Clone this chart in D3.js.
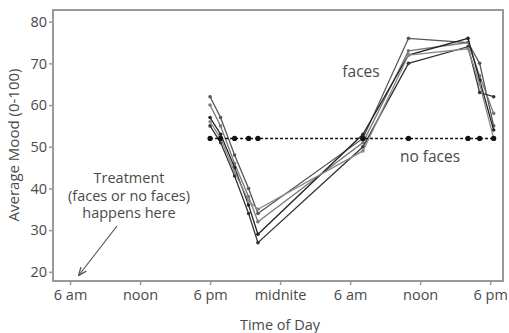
<!DOCTYPE html>
<html>
<head>
<meta charset="utf-8">
<script src="https://cdn.jsdelivr.net/npm/d3@7"></script>
<style>
body { margin: 0; background: #fff; }
text { font-family: "Open Sans", sans-serif; }
</style>
</head>
<body>
<script>
// hours after 6 am on day 1
var hours = [12.0, 12.9, 14.1, 15.3, 16.1, 25.1, 29.0, 34.1, 35.1, 36.3];
var noFaces = [52, 52, 52, 52, 52, 52, 52, 52, 52, 52];
var facesA = [62, 57, 48, 40, 34, 52, 76, 75, 70, 55];
var facesB = [60, 55, 46, 38, 32, 51, 73, 75, 67, 58];
var facesC = [57, 53, 45, 36, 29, 53, 72, 76, 66, 54];
var facesD = [55, 51, 43, 34, 27, 50, 70, 74, 63, 62];
var facesE = [56, 52, 44, 37, 35, 49, 72, 73.5, 65, 52];
var tickHours = [0, 6, 12, 18, 24, 30, 36];
var tickNames = ["6 am", "noon", "6 pm", "midnite", "6 am", "noon", "6 pm"];
var moodTicks = [20, 30, 40, 50, 60, 70, 80];

var textcolor = "#4a4a4a";
var framecolor = "#9a9a9a";
var faceColors = ["#555", "#777", "#222", "#333", "#888"];

var pLeft = 53, pRight = 503, pTop = 10, pBottom = 281;

var svg = d3.select("body")
	.append("svg")
	.attr("width", 509)
	.attr("height", 333);

var x = d3.scaleLinear().domain([-1.46, 37.1]).range([pLeft, pRight]);
var y = d3.scaleLinear().domain([17.8, 82.8]).range([pBottom, pTop]);

// frame
svg.append("rect")
	.attr("x", pLeft)
	.attr("y", pTop)
	.attr("width", pRight - pLeft)
	.attr("height", pBottom - pTop)
	.attr("fill", "none")
	.attr("stroke", framecolor)
	.attr("stroke-width", 2);

var xAxis = svg.append("g")
	.attr("transform", `translate(0,${pBottom + 1})`)
	.call(d3.axisBottom(x).tickValues(tickHours).tickSize(3).tickPadding(5)
		.tickFormat((d, i) => tickNames[i]));
var yAxis = svg.append("g")
	.attr("transform", `translate(${pLeft - 1},0)`)
	.call(d3.axisLeft(y).tickValues(moodTicks).tickSize(3).tickPadding(2));

[xAxis, yAxis].forEach(a => {
	a.select(".domain").remove();
	a.selectAll(".tick line").attr("stroke", framecolor).attr("stroke-width", 1.5);
	a.selectAll(".tick text")
		.attr("fill", textcolor)
		.attr("font-size", "14.5px")
		.attr("font-family", "Open Sans, sans-serif");
});

var line = d3.line()
	.x((d, i) => x(hours[i]))
	.y(d => y(d));

// faces series
var faces = [facesA, facesB, facesC, facesD, facesE];
faces.forEach((s, k) => {
	svg.append("path")
		.attr("d", line(s))
		.attr("fill", "none")
		.attr("stroke", faceColors[k])
		.attr("stroke-width", 1.3);
	svg.selectAll(".fm" + k)
		.data(s)
		.enter().append("circle")
		.attr("class", "fm" + k)
		.attr("cx", (d, i) => x(hours[i]))
		.attr("cy", d => y(d))
		.attr("r", 1.8)
		.attr("fill", faceColors[k]);
});

// no faces series
svg.append("path")
	.attr("d", line(noFaces))
	.attr("fill", "none")
	.attr("stroke", "#111")
	.attr("stroke-width", 1.5)
	.attr("stroke-dasharray", "3,2");
svg.selectAll(".nf")
	.data(noFaces)
	.enter().append("circle")
	.attr("class", "nf")
	.attr("cx", (d, i) => x(hours[i]))
	.attr("cy", d => y(d))
	.attr("r", 2.6)
	.attr("fill", "#111");

// labels
svg.append("text")
	.attr("x", 361)
	.attr("y", 77)
	.attr("text-anchor", "middle")
	.attr("font-size", "15.5px")
	.attr("fill", textcolor)
	.text("faces");
svg.append("text")
	.attr("x", 430)
	.attr("y", 162)
	.attr("text-anchor", "middle")
	.attr("font-size", "15.5px")
	.attr("fill", textcolor)
	.text("no faces");

var note = ["Treatment", "(faces or no faces)", "happens here"];
svg.selectAll(".note")
	.data(note)
	.enter().append("text")
	.attr("class", "note")
	.attr("x", 129)
	.attr("y", (d, i) => 183 + i * 17.5)
	.attr("text-anchor", "middle")
	.attr("font-size", "14.5px")
	.attr("fill", textcolor)
	.text(d => d);

svg.append("defs").append("marker")
	.attr("id", "arrow")
	.attr("viewBox", "0 0 10 10")
	.attr("refX", 9)
	.attr("refY", 5)
	.attr("markerWidth", 7)
	.attr("markerHeight", 7)
	.attr("orient", "auto")
	.append("path")
	.attr("d", "M0,1 L10,5 L0,9")
	.attr("fill", "none")
	.attr("stroke", "#555")
	.attr("stroke-width", 1.5);
svg.append("line")
	.attr("x1", 117)
	.attr("y1", 226)
	.attr("x2", 79)
	.attr("y2", 275)
	.attr("stroke", "#555")
	.attr("stroke-width", 1.2)
	.attr("marker-end", "url(#arrow)");

// axis titles
svg.append("text")
	.attr("x", 280)
	.attr("y", 330)
	.attr("text-anchor", "middle")
	.attr("font-size", "14.5px")
	.attr("fill", textcolor)
	.text("Time of Day");
svg.append("text")
	.attr("transform", "translate(19,145) rotate(-90)")
	.attr("text-anchor", "middle")
	.attr("font-size", "15px")
	.attr("fill", textcolor)
	.text("Average Mood (0-100)");
</script>
</body>
</html>
